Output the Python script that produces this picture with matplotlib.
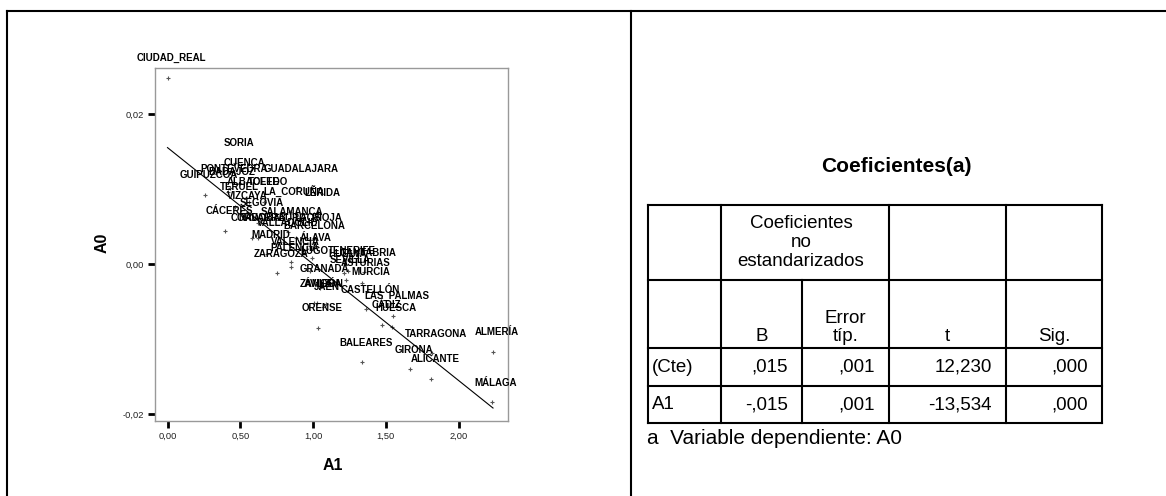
import numpy as np
import matplotlib.pyplot as plt

plt.rcParams['font.family'] = ['Liberation Sans', 'DejaVu Sans']

# Scatter data
provincias = ['CIUDAD_REAL', 'SORIA', 'CUENCA', 'PONTEVEDRA', 'BADAJOZ', 'GUADALAJARA',
              'GUIPUZCOA', 'ALBACETE', 'TOLEDO', 'TERUEL', 'LA_CORUÑA', 'LÉRIDA',
              'VIZCAYA', 'SEGOVIA', 'CÁCERES', 'SALAMANCA', 'CÓRDOBA', 'NAVARRA',
              'VALLADOLID', 'BURGOS', 'LA_RIOJA', 'BARCELONA', 'MADRID', 'ÁLAVA',
              'VALENCIA', 'PALENCIA', 'ZARAGOZA', 'LUGO', 'TENERIFE', 'CANTABRIA',
              'HUELVA', 'SEVILLA', 'ASTURIAS', 'GRANADA', 'MURCIA', 'ZAMORA',
              'ÁVILA', 'LEÓN', 'JAÉN', 'CASTELLÓN', 'LAS_PALMAS', 'CÁDIZ',
              'HUESCA', 'ORENSE', 'TARRAGONA', 'ALMERÍA', 'BALEARES', 'GIRONA',
              'ALICANTE', 'MÁLAGA']
a1 = [0.00, 0.464, 0.498, 0.430, 0.416, 0.890,
      0.258, 0.560, 0.663, 0.464, 0.842, 1.034,
      0.519, 0.622, 0.395, 0.828, 0.581, 0.622,
      0.801, 0.883, 1.007, 0.979, 0.684, 0.993,
      0.849, 0.849, 0.753, 0.979, 1.241, 1.351,
      1.213, 1.227, 1.337, 1.048, 1.371, 1.027,
      1.007, 1.089, 1.069, 1.364, 1.550, 1.474,
      1.543, 1.034, 1.818, 2.237, 1.337, 1.667,
      1.811, 2.230]
a0 = [0.0248, 0.0135, 0.0108, 0.0101, 0.0096, 0.0101,
      0.0092, 0.0083, 0.0083, 0.0076, 0.0069, 0.0069,
      0.0064, 0.0055, 0.0044, 0.0043, 0.0035, 0.0035,
      0.0029, 0.0035, 0.0035, 0.0024, 0.0013, 0.0008,
      0.0003, -0.0004, -0.0012, -0.0009, -0.0009, -0.0011,
      -0.0012, -0.0021, -0.0025, -0.0032, -0.0036, -0.0052,
      -0.0052, -0.0053, -0.0057, -0.0060, -0.0069, -0.0081,
      -0.0084, -0.0085, -0.0119, -0.0117, -0.0131, -0.0140,
      -0.0153, -0.0184]

# fit line
fit_b0 = 0.0155
fit_b1 = -0.0155

x_ticks = [0.0, 0.5, 1.0, 1.5, 2.0]
x_tick_labels = ['0,00', '0,50', '1,00', '1,50', '2,00']
y_ticks = [-0.02, 0.0, 0.02]
y_tick_labels = ['-0,02', '0,00', '0,02']

# Coefficients table
tabla_titulo = 'Coeficientes(a)'
cabecera_grupo = 'Coeficientes\nno\nestandarizados'
columnas = ['B', 'Error\ntíp.', 't', 'Sig.']
filas = ['(Cte)', 'A1']
coef_b = [',015', '-,015']
coef_error = [',001', ',001']
coef_t = ['12,230', '-13,534']
coef_sig = [',000', ',000']
nota = 'a  Variable dependiente: A0'

W, H = 1166, 496
fig = plt.figure(figsize=(W / 100, H / 100), dpi=100)

# overlay in pixel coords for the frames and the table
bg = fig.add_axes([0, 0, 1, 1])
bg.set_xlim(0, W)
bg.set_ylim(H, 0)
bg.axis('off')

lw = 1.5
bg.plot([7, W], [11, 11], color='black', lw=lw)
bg.plot([7, 7], [11, H], color='black', lw=lw)
bg.plot([631, 631], [11, H], color='black', lw=lw)

# scatter panel
ax = fig.add_axes([155 / W, (H - 421) / H, (508 - 155) / W, (421 - 68) / H])
ax.plot(a1, a0, linestyle='none', marker='+', ms=3.5, mew=0.8, color='#555555')
for name, x, y in zip(provincias, a1, a0):
    ax.annotate(name, (x, y), xytext=(2.9, 11.9), textcoords='offset points',
                ha='center', va='baseline', fontsize=7, fontweight='bold')

xf = np.array([0, max(a1)])
ax.plot(xf, fit_b0 + fit_b1 * xf, color='black', lw=0.8)

ax.set_xlim(-0.086, 2.34)
ax.set_ylim(-0.0209, 0.0261)
ax.set_xticks(x_ticks)
ax.set_xticklabels(x_tick_labels)
ax.set_yticks(y_ticks)
ax.set_yticklabels(y_tick_labels)
ax.tick_params(direction='out', length=5, width=2, color='black',
               labelsize=6.7, labelcolor='#222222', pad=3)
for s in ax.spines.values():
    s.set_color('#999999')
    s.set_linewidth(1)

ax.set_xlabel('A1', fontsize=11.5, fontweight='bold', va='center')
ax.xaxis.set_label_coords((333 - 155) / 353, (421 - 466) / 353)
ax.set_ylabel('A0', fontsize=11.5, fontweight='bold', va='center')
ax.yaxis.set_label_coords((102 - 155) / 353, (421 - 243) / 353)

# table
bg.text(896, 167, tabla_titulo, ha='center', va='center', fontsize=15, fontweight='bold')

cols = [648, 721, 802, 889, 1006, 1102]
rows = [205, 280, 348, 386, 423]
tlw = 1.5
for y in rows:
    bg.plot([cols[0], cols[-1]], [y, y], color='black', lw=tlw)
for i, x in enumerate(cols):
    if i == 2:
        bg.plot([x, x], [rows[1], rows[-1]], color='black', lw=tlw)
    else:
        bg.plot([x, x], [rows[0], rows[-1]], color='black', lw=tlw)

fs = 13.5
bg.text((cols[1] + cols[3]) / 2 - 4, (rows[0] + rows[1]) / 2, cabecera_grupo,
        ha='center', va='center', fontsize=fs, linespacing=1.15)
for i, c in enumerate(columnas):
    xc = (cols[i + 1] + cols[i + 2]) / 2
    bg.text(xc, rows[2] - 3, c, ha='center', va='bottom', fontsize=fs, linespacing=1.1)

valores = [coef_b, coef_error, coef_t, coef_sig]
for r, nombre in enumerate(filas):
    yc = (rows[2 + r] + rows[3 + r]) / 2
    bg.text(cols[0] + 4, yc, nombre, ha='left', va='center', fontsize=fs)
    for c, col_vals in enumerate(valores):
        bg.text(cols[c + 2] - 14, yc, col_vals[r], ha='right', va='center', fontsize=fs)

bg.text(647, 438, nota, ha='left', va='center', fontsize=15)

fig.savefig('out.png', dpi=100)
